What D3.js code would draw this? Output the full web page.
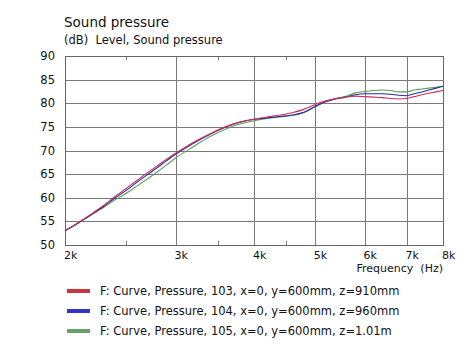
<!DOCTYPE html>
<html><head><meta charset="utf-8">
<script src="https://cdn.jsdelivr.net/npm/d3@7"></script>
<style>body{margin:0;background:#fff;} text{font-family:"DejaVu Sans",Verdana,sans-serif;fill:#111;}</style>
</head><body>
<svg id="c" width="466" height="361"></svg>
<script>
const freqs = [2000,2100,2200,2300,2400,2500,2600,2700,2800,2900,3000,3200,3400,3600,3800,4000,4200,4400,4600,4800,5000,5200,5400,5600,5800,6000,6200,6400,6600,6800,7000,7200,7400,7600,7800,8000];
const red   = [53.0,54.7,56.5,58.3,60.2,61.9,63.6,65.2,66.7,68.1,69.4,71.7,73.5,75.0,76.0,76.6,77.1,77.5,78.0,78.7,79.7,80.5,81.0,81.3,81.5,81.4,81.3,81.2,81.0,80.9,81.0,81.4,81.8,82.1,82.4,82.7];
const blue  = [53.0,54.7,56.4,58.1,59.9,61.5,63.2,64.8,66.3,67.8,69.2,71.5,73.4,74.9,76.0,76.6,76.9,77.2,77.5,78.1,79.3,80.3,80.9,81.3,81.8,82.0,82.0,82.0,81.9,81.7,81.6,82.0,82.4,82.8,83.2,83.6];
const green = [53.0,54.6,56.3,57.9,59.5,60.9,62.4,63.9,65.4,66.9,68.4,70.8,72.9,74.5,75.6,76.3,76.8,77.1,77.4,78.0,79.2,80.3,81.0,81.5,82.2,82.5,82.7,82.8,82.7,82.4,82.4,82.8,83.0,83.2,83.4,83.6];
const seriesNames = ["F: Curve, Pressure, 103, x=0, y=600mm, z=910mm","F: Curve, Pressure, 104, x=0, y=600mm, z=960mm","F: Curve, Pressure, 105, x=0, y=600mm, z=1.01m"];
const lineColors = ["#c8305a","#2a2aa0","#5a9e5a"];
const swatchColors = ["#cc3340","#3333cc","#66a066"];
const xTicks = [2000,3000,4000,5000,6000,7000,8000];
const xTickLabels = ["2k","3k","4k","5k","6k","7k","8k"];
const xMinor = [2500,3500,4500];
const yTicks = [50,55,60,65,70,75,80,85,90];

const svg = d3.select("#c");
const L=65,R=443,T=56,B=245;
const x = d3.scaleLog().domain([2000,8000]).range([L,R]);
const y = d3.scaleLinear().domain([50,90]).range([B,T]);

// grid
const g = svg.append("g");
g.selectAll(".hg").data(yTicks).enter().append("line")
 .attr("x1",L).attr("x2",R).attr("y1",d=>Math.round(y(d))+0.5).attr("y2",d=>Math.round(y(d))+0.5)
 .attr("stroke","#7a7a7a").attr("stroke-width",1);
g.selectAll(".vg").data(xTicks).enter().append("line")
 .attr("y1",T).attr("y2",B).attr("x1",d=>Math.round(x(d))+0.5).attr("x2",d=>Math.round(x(d))+0.5)
 .attr("stroke","#7a7a7a").attr("stroke-width",1);
// minor ticks
[[T,T+4],[B-4,B]].forEach(([a,b])=>{
 g.selectAll(null).data(xMinor).enter().append("line")
  .attr("x1",d=>Math.round(x(d))+0.5).attr("x2",d=>Math.round(x(d))+0.5).attr("y1",a).attr("y2",b)
  .attr("stroke","#7a7a7a");
});
g.append("rect").attr("x",L+0.5).attr("y",T+0.5).attr("width",R-L).attr("height",B-T)
 .attr("fill","none").attr("stroke","#666");

// lines
const line = d3.line().x((d,i)=>x(freqs[i])).y(d=>y(d)).curve(d3.curveMonotoneX);
[green,blue,red].forEach((s,k)=>{
 const idx=[2,1,0][k];
 svg.append("path").datum(s).attr("d",line).attr("fill","none")
  .attr("stroke",lineColors[idx]).attr("stroke-width",1.1);
});

// y labels
svg.selectAll(".yl").data(yTicks).enter().append("text")
 .attr("x",55).attr("y",d=>y(d)+4).attr("text-anchor","end").attr("font-size","11.5px").text(d=>d);
// x labels
svg.selectAll(".xl").data(xTicks).enter().append("text")
 .attr("x",d=>x(d)-1).attr("y",259).attr("font-size","11px").text((d,i)=>xTickLabels[i]);
svg.append("text").attr("x",R).attr("y",272).attr("text-anchor","end").attr("font-size","11px")
 .attr("xml:space","preserve").text("Frequency  (Hz)");

// titles
svg.append("text").attr("x",64).attr("y",27).attr("font-size","13.5px").text("Sound pressure");
svg.append("text").attr("x",64).attr("y",44).attr("font-size","11.5px").attr("xml:space","preserve").text("(dB)  Level, Sound pressure");

// legend
seriesNames.forEach((n,i)=>{
 const yy = 291 + i*20;
 svg.append("rect").attr("x",67).attr("y",yy-2).attr("width",23).attr("height",4).attr("fill",swatchColors[i]);
 svg.append("text").attr("x",100).attr("y",yy+4).attr("font-size","11.5px").text(n);
});
</script>
</body></html>
